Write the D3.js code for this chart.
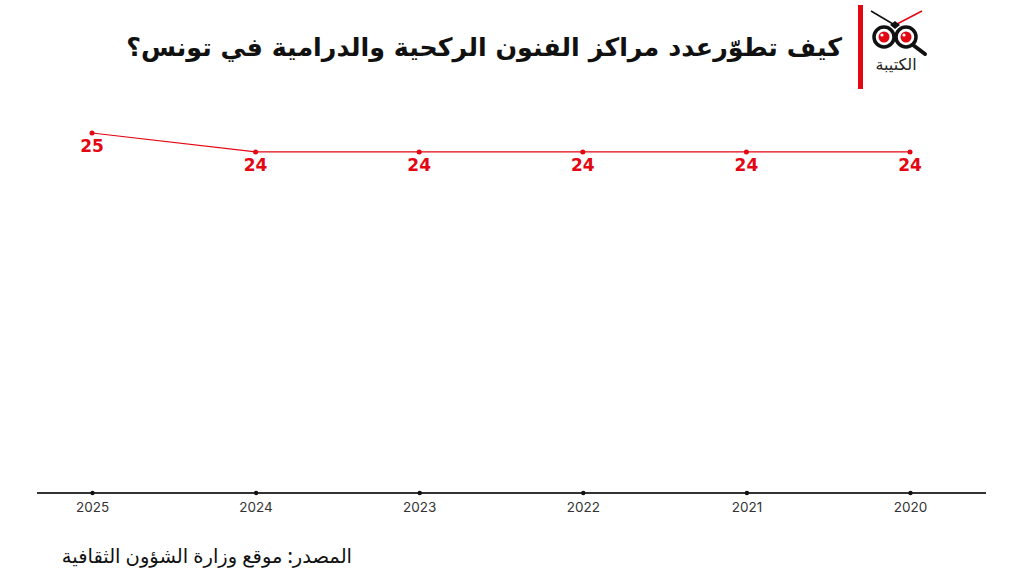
<!DOCTYPE html>
<html>
<head>
<meta charset="utf-8">
<script src="https://cdn.jsdelivr.net/npm/d3@7"></script>
<style>
	body { margin: 0; background: #fff; }
	svg { display: block; }
</style>
</head>
<body>
<svg class="chart"></svg>
<script>
var years = ["2025", "2024", "2023", "2022", "2021", "2020"];
var centres = [25, 24, 24, 24, 24, 24];

var titleText = "كيف تطوّرعدد مراكز الفنون الركحية والدرامية في تونس؟";
var sourceText = "المصدر: موقع وزارة الشؤون الثقافية";
var logoText = "الكتيبة";

var width = 1024, height = 576;
var red = "#e30613";

var svg = d3.select(".chart").attr("width", width).attr("height", height);

var x = d3.scalePoint().domain(years).range([92, 910]);
var y = d3.scaleLinear().domain([6, 25]).range([493, 133]);

// x axis
var xAxis = svg.append("g")
	.attr("transform", "translate(0,493)")
	.call(d3.axisBottom(x).tickSize(0).tickPadding(9));
xAxis.select(".domain").remove();
xAxis.insert("line", ".tick")
	.attr("x1", 37).attr("x2", 986)
	.attr("stroke", "#333").attr("stroke-width", 2);
xAxis.selectAll(".tick").append("circle").attr("r", 2.2).attr("fill", "#111");
xAxis.selectAll(".tick text")
	.attr("fill", "#333")
	.style("font-family", "Inter, 'Open Sans', sans-serif")
	.style("font-size", "13.5px");

// line
var line = d3.line()
	.x(function(d, i) { return x(years[i]); })
	.y(function(d) { return y(d); });

svg.append("path")
	.datum(centres)
	.attr("d", line)
	.attr("fill", "none")
	.attr("stroke", red)
	.attr("stroke-width", 1.2);

svg.selectAll(".dot")
	.data(centres)
	.enter().append("circle")
	.attr("cx", function(d, i) { return x(years[i]); })
	.attr("cy", function(d) { return y(d); })
	.attr("r", 2.5)
	.attr("fill", red);

svg.selectAll(".val")
	.data(centres)
	.enter().append("text")
	.attr("x", function(d, i) { return x(years[i]); })
	.attr("y", function(d) { return y(d) + 19; })
	.attr("text-anchor", "middle")
	.attr("fill", red)
	.style("font-family", "'DejaVu Sans', sans-serif")
	.style("font-weight", "bold")
	.style("font-size", "17px")
	.text(function(d) { return d; });

// title (rtl: "start" anchors the right edge)
var title = svg.append("text")
	.attr("x", 842).attr("y", 56)
	.attr("text-anchor", "start")
	.attr("direction", "rtl")
	.attr("fill", "#111")
	.style("font-family", "'DejaVu Sans', sans-serif")
	.style("font-weight", "bold")
	.style("font-size", "30px")
	.text(titleText);
var tw = title.node().getComputedTextLength();
if (tw > 716) title.style("font-size", (30 * 716 / tw) + "px");

// red bar
svg.append("rect")
	.attr("x", 858).attr("y", 5)
	.attr("width", 5).attr("height", 84)
	.attr("fill", red);

// logo
var logo = svg.append("g");
logo.append("line").attr("x1", 871).attr("y1", 11).attr("x2", 893).attr("y2", 24)
	.attr("stroke", "#111").attr("stroke-width", 1.5);
logo.append("line").attr("x1", 897).attr("y1", 24).attr("x2", 922).attr("y2", 11)
	.attr("stroke", red).attr("stroke-width", 1.5);
logo.append("path").attr("d", "M890,25 L895,21 L900,25 L895,29 Z").attr("fill", "#111");
[884, 906].forEach(function(cx) {
	logo.append("circle").attr("cx", cx).attr("cy", 37).attr("r", 10)
		.attr("fill", "#fff").attr("stroke", "#111").attr("stroke-width", 3.5);
	logo.append("circle").attr("cx", cx).attr("cy", 37).attr("r", 5.5).attr("fill", red);
	logo.append("circle").attr("cx", cx - 2).attr("cy", 35).attr("r", 1.6).attr("fill", "#fff");
});
logo.append("line").attr("x1", 913).attr("y1", 45).attr("x2", 925).attr("y2", 54)
	.attr("stroke", "#111").attr("stroke-width", 4).attr("stroke-linecap", "round");
logo.append("text")
	.attr("x", 896).attr("y", 70)
	.attr("text-anchor", "middle")
	.attr("direction", "rtl")
	.attr("fill", "#222")
	.style("font-family", "'Noto Sans', 'DejaVu Sans', sans-serif")
	.style("font-size", "16px")
	.text(logoText);

// source
svg.append("text")
	.attr("x", 352).attr("y", 563)
	.attr("text-anchor", "start")
	.attr("direction", "rtl")
	.attr("fill", "#111")
	.style("font-family", "'Noto Sans', 'DejaVu Sans', sans-serif")
	.style("font-weight", "500")
	.style("font-size", "19.5px")
	.text(sourceText);
</script>
</body>
</html>
